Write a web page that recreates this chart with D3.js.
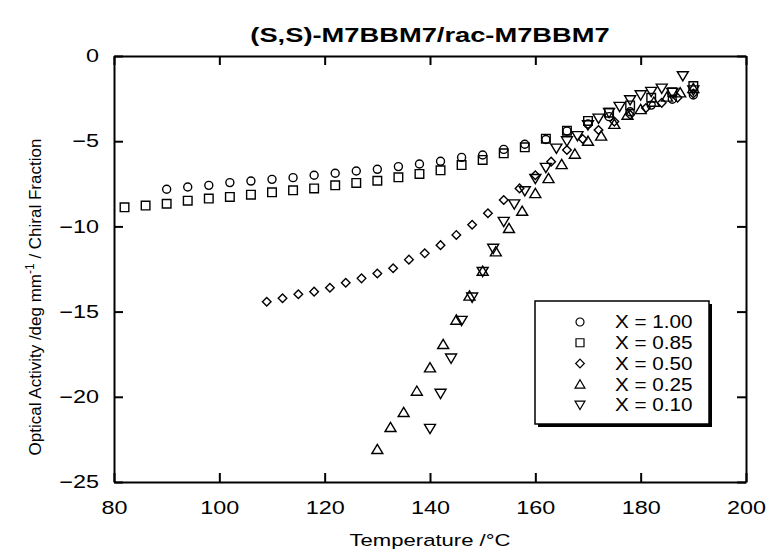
<!DOCTYPE html>
<html>
<head>
<meta charset="utf-8">
<script src="https://cdn.jsdelivr.net/npm/d3@7"></script>
<style>
  body { margin: 0; background: #fff; }
  text { font-family: "Liberation Sans", Arial, Helvetica, sans-serif; fill: #000; }
</style>
</head>
<body>
<script>
// X = 1.00 (circles)
let t100 = [90, 94, 98, 102, 106, 110, 114, 118, 122, 126, 130, 134, 138, 142, 146, 150, 154, 158, 162, 166, 170, 174, 178, 182, 186, 190];
let v100 = [-7.82, -7.69, -7.59, -7.43, -7.34, -7.24, -7.14, -7.0, -6.88, -6.75, -6.65, -6.49, -6.34, -6.18, -5.95, -5.81, -5.48, -5.18, -4.9, -4.4, -3.99, -3.56, -3.27, -2.88, -2.54, -2.29];

// X = 0.85 (squares)
let t085 = [82, 86, 90, 94, 98, 102, 106, 110, 114, 118, 122, 126, 130, 134, 138, 142, 146, 150, 154, 158, 162, 166, 170, 174, 178, 182, 186, 190];
let v085 = [-8.88, -8.78, -8.67, -8.49, -8.37, -8.27, -8.14, -8.0, -7.88, -7.77, -7.59, -7.45, -7.32, -7.12, -6.92, -6.71, -6.4, -6.1, -5.71, -5.36, -4.85, -4.38, -3.81, -3.33, -2.9, -2.45, -2.13, -1.76];

// X = 0.50 (diamonds)
let t050 = [109, 112, 115, 118, 121, 124, 127, 130, 133, 136, 139, 142, 145, 148, 151, 154, 157, 160, 163, 166, 169, 172, 175, 178, 181, 184, 187, 190];
let v050 = [-14.42, -14.22, -13.98, -13.83, -13.6, -13.31, -13.05, -12.76, -12.46, -11.95, -11.58, -11.1, -10.5, -9.9, -9.23, -8.45, -7.77, -7.0, -6.2, -5.52, -4.87, -4.34, -3.85, -3.45, -3.05, -2.75, -2.45, -2.2];

// X = 0.25 (triangles up)
let t025 = [130, 132.5, 135, 137.5, 140, 142.5, 145, 147.5, 150, 152.5, 155, 157.5, 160, 162.5, 165, 167.5, 170, 172.5, 175, 177.5, 180, 182.5, 185, 187.5, 190];
let v025 = [-23.08, -21.79, -20.91, -19.66, -18.29, -16.92, -15.49, -14.08, -12.62, -11.48, -10.11, -9.1, -8.06, -7.18, -6.36, -5.75, -4.99, -4.69, -4.0, -3.46, -3.13, -2.7, -2.4, -2.15, -1.9];

// X = 0.10 (triangles down)
let t010 = [140, 142, 144, 146, 148, 150, 152, 154, 156, 158, 160, 162, 164, 166, 168, 170, 172, 174, 176, 178, 180, 182, 184, 186, 188, 190];
let v010 = [-21.87, -19.81, -17.74, -15.53, -14.16, -12.66, -11.3, -9.72, -8.69, -7.92, -7.2, -6.55, -5.42, -4.99, -4.69, -4.05, -3.66, -3.33, -2.97, -2.58, -2.29, -2.09, -1.9, -2.15, -1.17, -2.0];

let seriesNames = ["X = 1.00", "X = 0.85", "X = 0.50", "X = 0.25", "X = 0.10"];
let xTicks = [80, 100, 120, 140, 160, 180, 200];
let yTicks = [0, -5, -10, -15, -20, -25];

// marker shapes (open symbols)
let circleSym = { draw(ctx, s) { ctx.moveTo(s, 0); ctx.arc(0, 0, s, 0, 2 * Math.PI); } };
let squareSym = { draw(ctx, s) { ctx.rect(-s, -s, 2 * s, 2 * s); } };
let diamondSym = { draw(ctx, s) { ctx.moveTo(0, -s); ctx.lineTo(s, 0); ctx.lineTo(0, s); ctx.lineTo(-s, 0); ctx.closePath(); } };
let triUpSym = { draw(ctx, s) { ctx.moveTo(0, -s); ctx.lineTo(s * 1.1, s * 0.85); ctx.lineTo(-s * 1.1, s * 0.85); ctx.closePath(); } };
let triDownSym = { draw(ctx, s) { ctx.moveTo(0, s); ctx.lineTo(s * 1.1, -s * 0.85); ctx.lineTo(-s * 1.1, -s * 0.85); ctx.closePath(); } };

let series = [
    { name: seriesNames[0], t: t100, v: v100, sym: circleSym, size: 4, lsize: 4 },
    { name: seriesNames[1], t: t085, v: v085, sym: squareSym, size: 4.3, lsize: 4 },
    { name: seriesNames[2], t: t050, v: v050, sym: diamondSym, size: 4.3, lsize: 4.3 },
    { name: seriesNames[3], t: t025, v: v025, sym: triUpSym, size: 5, lsize: 4.5 },
    { name: seriesNames[4], t: t010, v: v010, sym: triDownSym, size: 5, lsize: 4.5 }
];

let width = 768, height = 555;
let margin = { top: 56, right: 22, bottom: 73, left: 114 };
let stretch = 1.3; // the scanned figure's lettering is wide

let svg = d3.select("body").append("svg")
    .attr("width", width)
    .attr("height", height);

let xScale = d3.scaleLinear()
    .domain([80, 200])
    .range([margin.left, width - margin.right]);

let yScale = d3.scaleLinear()
    .domain([-25, 0])
    .range([height - margin.bottom, margin.top]);

// axes, ticks point inward on all four sides
let xAxis = d3.axisBottom(xScale).tickValues(xTicks).tickSizeInner(-9).tickSizeOuter(0).tickPadding(19);
let yAxis = d3.axisLeft(yScale).tickValues(yTicks).tickSizeInner(-9).tickSizeOuter(0).tickPadding(15);
let xAxisTop = d3.axisTop(xScale).tickValues(xTicks).tickSizeInner(-9).tickSizeOuter(0).tickFormat("");
let yAxisRight = d3.axisRight(yScale).tickValues(yTicks).tickSizeInner(-9).tickSizeOuter(0).tickFormat("");

let gx = svg.append("g").attr("transform", `translate(0,${yScale(-25)})`).call(xAxis);
let gy = svg.append("g").attr("transform", `translate(${xScale(80)},0)`).call(yAxis);
svg.append("g").attr("transform", `translate(0,${yScale(0)})`).call(xAxisTop);
svg.append("g").attr("transform", `translate(${xScale(200)},0)`).call(yAxisRight);

svg.selectAll(".domain").attr("stroke", "#000").attr("stroke-width", 2);
svg.selectAll(".tick line").attr("stroke", "#000").attr("stroke-width", 2);
svg.selectAll(".tick text").attr("font-size", 18).attr("font-family", "Liberation Sans, Arial, sans-serif");
gx.selectAll(".tick text").attr("transform", `scale(${stretch},1)`);
gy.selectAll(".tick text").attr("x", -15 / stretch).attr("transform", `scale(${stretch},1)`);

// points
series.forEach(s => {
    let sym = d3.symbol().type(s.sym).size(s.size);
    svg.append("g")
        .selectAll("path")
        .data(s.t.map((t, i) => ({ t: t, v: s.v[i] })))
        .join("path")
        .attr("transform", d => `translate(${xScale(d.t)},${yScale(d.v)})`)
        .attr("d", sym)
        .attr("fill", "none")
        .attr("stroke", "#000")
        .attr("stroke-width", 1.4);
});

// title
svg.append("text")
    .attr("transform", `translate(${(xScale(80) + xScale(200)) / 2},42) scale(${stretch},1)`)
    .attr("text-anchor", "middle")
    .attr("font-size", 21)
    .attr("font-weight", "bold")
    .text("(S,S)-M7BBM7/rac-M7BBM7");

// x label
svg.append("text")
    .attr("transform", `translate(${(xScale(80) + xScale(200)) / 2},546) scale(${stretch},1)`)
    .attr("text-anchor", "middle")
    .attr("font-size", 17)
    .text("Temperature /°C");

// y label
let yl = svg.append("text")
    .attr("transform", "translate(41,297) rotate(-90)")
    .attr("text-anchor", "middle")
    .attr("font-size", 17);
yl.append("tspan").text("Optical Activity /deg mm");
yl.append("tspan").attr("font-size", 12).attr("dy", -7).text("-1");
yl.append("tspan").attr("dy", 7).text(" / Chiral Fraction");

// legend
let lg = { x: 535, y: 301, w: 174, h: 123 };
svg.append("rect")
    .attr("x", lg.x + 3).attr("y", lg.y + 3)
    .attr("width", lg.w).attr("height", lg.h)
    .attr("fill", "#000");
svg.append("rect")
    .attr("x", lg.x).attr("y", lg.y)
    .attr("width", lg.w).attr("height", lg.h)
    .attr("fill", "#fff")
    .attr("stroke", "#000")
    .attr("stroke-width", 1.5);

let rowY = d3.scalePoint().domain(seriesNames).range([lg.y + 21, lg.y + 104]);
series.forEach(s => {
    svg.append("path")
        .attr("transform", `translate(${lg.x + 45},${rowY(s.name)})`)
        .attr("d", d3.symbol().type(s.sym).size(s.lsize))
        .attr("fill", "none")
        .attr("stroke", "#000")
        .attr("stroke-width", 1.2);
    svg.append("text")
        .attr("transform", `translate(${lg.x + 80},${rowY(s.name)}) scale(1.15,1)`)
        .attr("dy", "0.36em")
        .attr("font-size", 18)
        .text(s.name);
});
</script>
</body>
</html>
